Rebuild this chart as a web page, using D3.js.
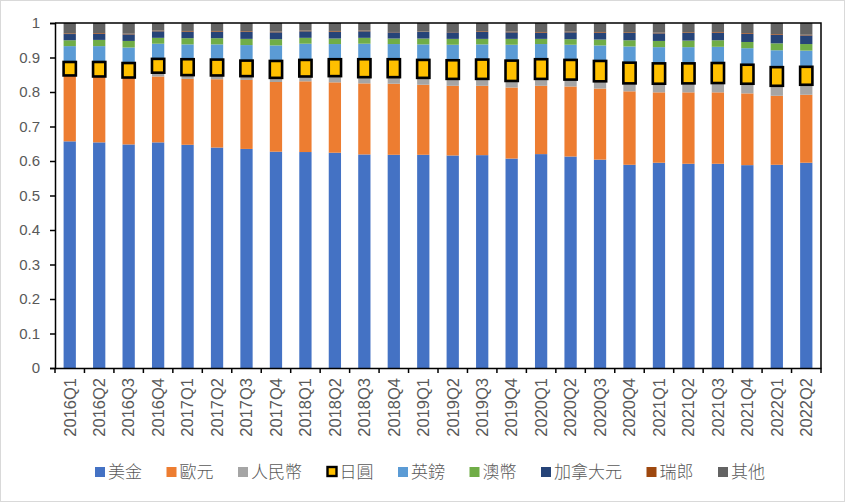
<!DOCTYPE html>
<html>
<head>
<meta charset="utf-8">
<script src="https://cdn.jsdelivr.net/npm/d3@7"></script>
<style>
  html, body { margin: 0; padding: 0; background: #fff; }
  svg { display: block; }
</style>
</head>
<body>
<svg id="chart" width="845" height="502"></svg>
<script>
// ---------------- DATA ----------------
const quarters = ["2016Q1","2016Q2","2016Q3","2016Q4","2017Q1","2017Q2","2017Q3","2017Q4",
  "2018Q1","2018Q2","2018Q3","2018Q4","2019Q1","2019Q2","2019Q3","2019Q4",
  "2020Q1","2020Q2","2020Q3","2020Q4","2021Q1","2021Q2","2021Q3","2021Q4","2022Q1","2022Q2"];

const seriesNames = ["美金","歐元","人民幣","日圓","英鎊","澳幣","加拿大元","瑞郎","其他"];

const usd   = [0.657,0.654,0.648,0.654,0.647,0.639,0.635,0.627,0.626,0.624,0.619,0.618,0.618,0.616,0.617,0.607,0.620,0.613,0.604,0.589,0.595,0.592,0.592,0.588,0.589,0.595];
const eur   = [0.191,0.191,0.194,0.191,0.191,0.198,0.200,0.202,0.205,0.204,0.206,0.206,0.203,0.202,0.201,0.206,0.198,0.203,0.206,0.213,0.204,0.207,0.207,0.208,0.200,0.197];
const rmb   = [0.000,0.000,0.000,0.011,0.011,0.011,0.011,0.012,0.014,0.018,0.018,0.019,0.020,0.020,0.020,0.019,0.020,0.020,0.021,0.023,0.025,0.026,0.027,0.028,0.029,0.029];
const jpy   = [0.039,0.042,0.042,0.040,0.046,0.046,0.045,0.049,0.048,0.049,0.052,0.052,0.052,0.054,0.056,0.059,0.057,0.057,0.059,0.060,0.059,0.058,0.058,0.055,0.054,0.052];
const gbp   = [0.046,0.046,0.045,0.044,0.043,0.044,0.045,0.045,0.047,0.044,0.045,0.044,0.045,0.045,0.044,0.046,0.044,0.044,0.045,0.047,0.047,0.047,0.047,0.048,0.049,0.047];
const aud   = [0.017,0.018,0.019,0.017,0.018,0.018,0.018,0.018,0.017,0.016,0.017,0.016,0.017,0.017,0.016,0.017,0.015,0.016,0.017,0.018,0.018,0.019,0.019,0.018,0.020,0.019];
const cad   = [0.018,0.018,0.019,0.019,0.019,0.019,0.020,0.020,0.019,0.020,0.019,0.018,0.019,0.019,0.020,0.019,0.018,0.020,0.020,0.021,0.022,0.022,0.022,0.024,0.025,0.025];
const chf   = [0.002,0.002,0.002,0.002,0.002,0.002,0.002,0.002,0.002,0.002,0.002,0.001,0.001,0.001,0.002,0.002,0.002,0.002,0.002,0.002,0.002,0.002,0.002,0.002,0.002,0.002];
const other = [0.030,0.029,0.031,0.022,0.023,0.023,0.024,0.025,0.022,0.023,0.022,0.026,0.025,0.026,0.024,0.025,0.026,0.025,0.026,0.027,0.028,0.027,0.026,0.029,0.032,0.034];

const yTicks = [0,0.1,0.2,0.3,0.4,0.5,0.6,0.7,0.8,0.9,1];
const colors = ["#4472C4","#ED7D31","#A5A5A5","#FFC000","#5B9BD5","#70AD47","#264478","#9E480E","#636363"];

// ---------------- BUILD ----------------
const allSeries = [usd, eur, rmb, jpy, gbp, aud, cad, chf, other];
const rows = quarters.map((q, i) => {
  const r = { q };
  seriesNames.forEach((n, k) => r[n] = allSeries[k][i]);
  return r;
});

const svg = d3.select("#chart");
const W = 845, H = 502;
const plot = { left: 55, right: 821, top: 23, bottom: 368 };

// chart-area border
svg.append("rect").attr("x", 0.5).attr("y", 0.5).attr("width", W - 1).attr("height", H - 1)
  .attr("fill", "#fff").attr("stroke", "#D9D9D9").attr("stroke-width", 1);

const x = d3.scaleBand().domain(quarters).range([plot.left, plot.right])
  .paddingInner(0.5833).paddingOuter(0.5833 / 2);
const y = d3.scaleLinear().domain([0, 1]).range([plot.bottom, plot.top]);

const stack = d3.stack().keys(seriesNames);
const layers = stack(rows);

const gBars = svg.append("g");
layers.forEach((layer, k) => {
  if (seriesNames[k] === "日圓") return;
  gBars.append("g").attr("fill", colors[k])
    .selectAll("rect").data(layer).join("rect")
    .attr("x", d => x(d.data.q))
    .attr("width", x.bandwidth())
    .attr("y", d => y(d[1]))
    .attr("height", d => Math.max(0, y(d[0]) - y(d[1])));
});
// JPY drawn last with black border
const jIdx = seriesNames.indexOf("日圓");
gBars.append("g").attr("fill", colors[jIdx]).attr("stroke", "#000").attr("stroke-width", 2.6)
  .selectAll("rect").data(layers[jIdx]).join("rect")
  .attr("x", d => x(d.data.q))
  .attr("width", x.bandwidth())
  .attr("y", d => y(d[1]))
  .attr("height", d => Math.max(0, y(d[0]) - y(d[1])));

// plot frame (top & right)
svg.append("path")
  .attr("d", `M${plot.left},${plot.top}H${plot.right}V${plot.bottom}`)
  .attr("fill", "none").attr("stroke", "#000").attr("stroke-width", 1.5);

// Y axis
const yAxis = d3.axisLeft(y).tickValues(yTicks).tickFormat(d3.format("~g")).tickSize(5).tickPadding(10);
const gy = svg.append("g").attr("transform", `translate(${plot.left},0)`).call(yAxis);
gy.select(".domain").attr("stroke", "#000").attr("stroke-width", 1.5);
gy.selectAll(".tick line").attr("stroke", "#000").attr("stroke-width", 1.5);
gy.selectAll(".tick text").attr("fill", "#595959")
  .style("font-family", "'Liberation Sans', Arial, sans-serif").style("font-size", "15px");

// X axis
const xAxis = d3.axisBottom(x).tickSize(0).tickSizeOuter(0);
const gx = svg.append("g").attr("transform", `translate(0,${plot.bottom})`).call(xAxis);
gx.select(".domain").attr("stroke", "#000").attr("stroke-width", 1.5);
gx.selectAll(".tick text")
  .attr("fill", "#595959")
  .style("font-family", "'Liberation Sans', Arial, sans-serif").style("font-size", "16.5px")
  .attr("text-anchor", "end")
  .attr("transform", "rotate(-90)")
  .attr("x", -10).attr("y", 0).attr("dy", "0.35em");
// category boundary ticks
const bounds = d3.range(quarters.length + 1).map(i => plot.left + i * (plot.right - plot.left) / quarters.length);
svg.append("g").selectAll("line").data(bounds).join("line")
  .attr("x1", d => d).attr("x2", d => d)
  .attr("y1", plot.bottom).attr("y2", plot.bottom + 5)
  .attr("stroke", "#000").attr("stroke-width", 1.5);

// Legend
const legend = svg.append("g");
const fontLeg = "'Noto Sans CJK TC', 'Noto Sans CJK SC', sans-serif";
const items = [];
seriesNames.forEach((n, k) => {
  const g = legend.append("g");
  const isJ = n === "日圓";
  g.append("rect")
    .attr("x", isJ ? 1 : 0).attr("y", -5)
    .attr("width", 9).attr("height", isJ ? 9 : 10)
    .attr("width", isJ ? 9 : 10)
    .attr("fill", colors[k])
    .attr("stroke", isJ ? "#000" : "none").attr("stroke-width", isJ ? 2.4 : 0);
  const t = g.append("text").attr("x", 13).attr("y", 0).attr("dy", "0.35em")
    .attr("fill", "#595959").style("font-family", fontLeg).style("font-size", "17px").style("font-weight", 300)
    .text(n);
  const w = 13 + t.node().getComputedTextLength();
  items.push({ g, w });
});
const gap = 24.5;
let start = 95;
items.forEach(it => { it.g.attr("transform", `translate(${start},472)`); start += it.w + gap; });
</script>
</body>
</html>
